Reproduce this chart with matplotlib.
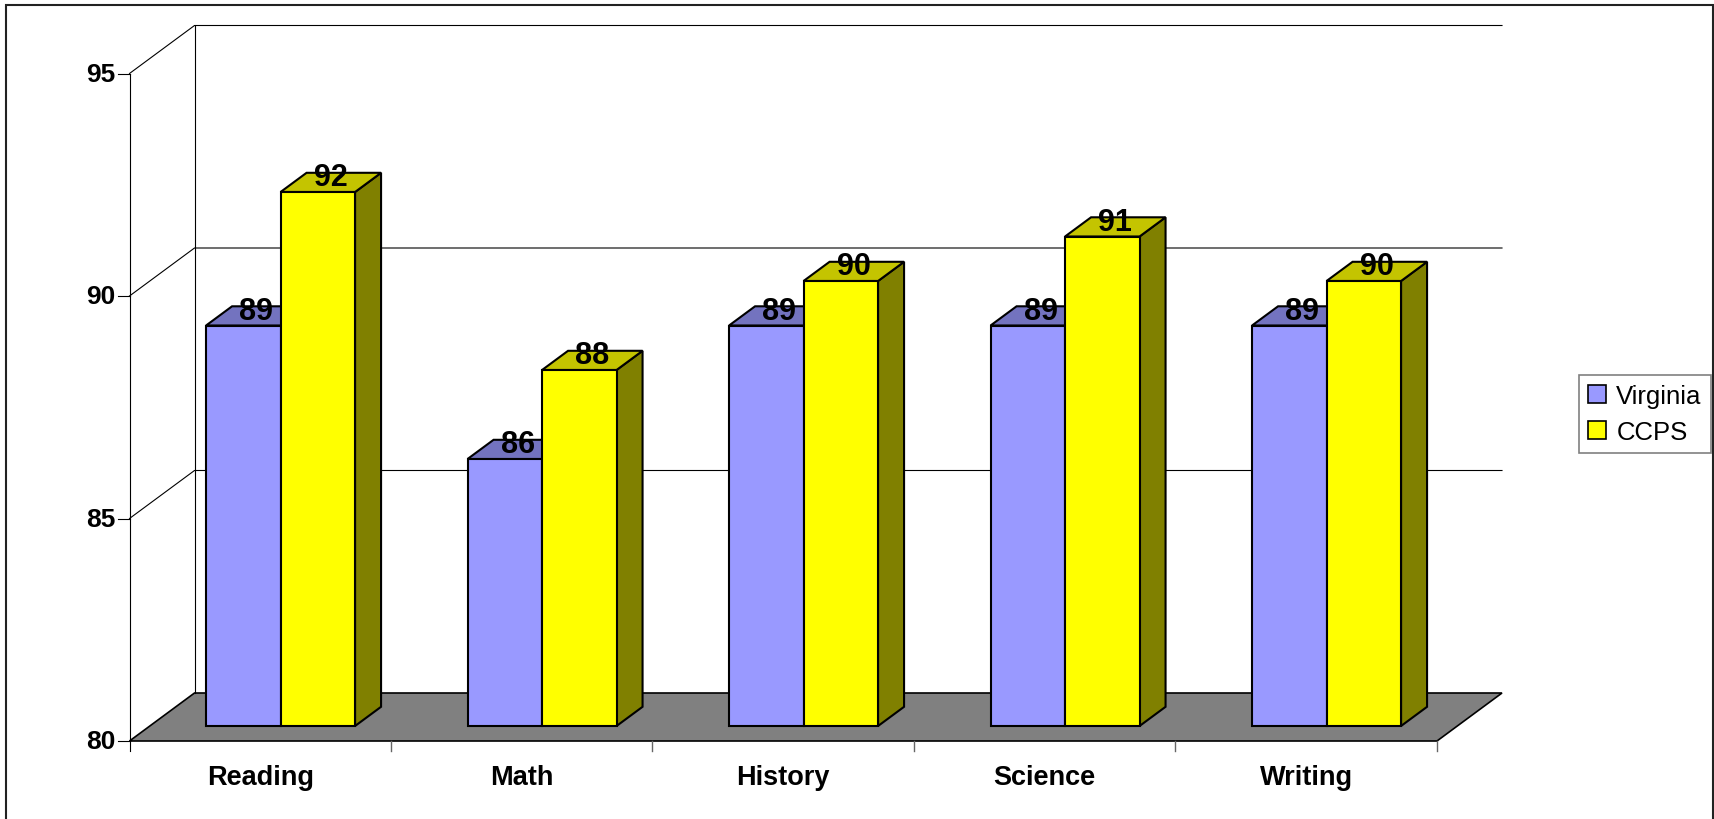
import matplotlib
matplotlib.use("Agg")
import matplotlib.pyplot as plt
from matplotlib.patches import Polygon, Patch, Rectangle

plt.rcParams['font.family'] = ['Liberation Sans', 'DejaVu Sans']

categories = ["Reading", "Math", "History", "Science", "Writing"]
virginia = [89, 86, 89, 89, 89]
ccps = [92, 88, 90, 91, 90]
series_names = ["Virginia", "CCPS"]
y_ticks = [80, 85, 90, 95]

W, H = 1715, 820
fig = plt.figure(figsize=(W / 100, H / 100), dpi=100)
ax = fig.add_axes([0, 0, 1, 1])

# pixel layout of the fake 3d box
X0, CAT = 129.5, 261.5      # front-left corner px, px per category
Y0, UNIT = 742, 44.5        # px of the floor line, px per value unit
DX, DY = 65 / CAT, 48 / UNIT  # depth offset in data units
VMIN, VMAX = y_ticks[0], y_ticks[-1]

ax.set_xlim(-X0 / CAT, (W - X0) / CAT)
ax.set_ylim(VMIN - (H - Y0) / UNIT, VMIN + Y0 / UNIT)
ax.axis('off')


def proj(x, v, d):
    return (x + d * DX, v + d * DY)


ncat = len(categories)

# floor
floor = [proj(0, VMIN, 0), proj(ncat, VMIN, 0), proj(ncat, VMIN, 1), proj(0, VMIN, 1)]
ax.add_patch(Polygon(floor, closed=True, fc='#808080', ec='black', lw=1.2, zorder=1))

# walls, gridlines, y ticks
for t in y_ticks:
    p0 = proj(0, t, 0)
    p1 = proj(0, t, 1)
    p2 = proj(ncat, t, 1)
    if t > VMIN:
        ax.plot([p0[0], p1[0], p2[0]], [p0[1], p1[1], p2[1]], color='black', lw=0.8, zorder=1)
    ax.plot([p0[0] - 11.5 / CAT, p0[0]], [t, t], color='black', lw=0.8, zorder=1)
    ax.text(p0[0] - 14 / CAT, t, str(t), ha='right', va='center',
            fontsize=19, fontweight='bold')

ax.plot([0, 0], [VMIN - 10 / UNIT, VMAX], color='black', lw=0.8, zorder=1)
b0 = proj(0, VMIN, 1)
b1 = proj(0, VMAX, 1)
ax.plot([b0[0], b1[0]], [b0[1], b1[1]], color='black', lw=0.8, zorder=1)

# category ticks and labels
for k in range(1, ncat + 1):
    ax.plot([k, k], [VMIN, VMIN - 10 / UNIT], color='#666666', lw=1, zorder=1)
for i, c in enumerate(categories):
    ax.text(i + 0.5, VMIN - 36 / UNIT, c, ha='center', va='center',
            fontsize=19.5, fontweight='bold')

# bars
bw = 74.5 / CAT
gap = (1 - 2 * bw) / 2
d0, d1 = 0.3125, 0.7125
styles = [('#9999FF', '#7373BF', '#4D4D80'), ('#FFFF00', '#C4C400', '#808000')]
for i in range(ncat):
    for j, vals in enumerate([virginia, ccps]):
        front_c, top_c, side_c = styles[j]
        x0 = i + gap + j * bw
        x1 = x0 + bw
        v = vals[i]
        side = [proj(x1, VMIN, d0), proj(x1, VMIN, d1), proj(x1, v, d1), proj(x1, v, d0)]
        top = [proj(x0, v, d0), proj(x1, v, d0), proj(x1, v, d1), proj(x0, v, d1)]
        front = [proj(x0, VMIN, d0), proj(x1, VMIN, d0), proj(x1, v, d0), proj(x0, v, d0)]
        for poly, col in [(side, side_c), (top, top_c), (front, front_c)]:
            ax.add_patch(Polygon(poly, closed=True, fc=col, ec='black', lw=1.5, zorder=2))
        cx, cy = proj((x0 + x1) / 2, v, (d0 + d1) / 2)
        ax.text(cx, cy - 3 / UNIT, str(v), ha='center', va='baseline',
                fontsize=22, fontweight='bold', zorder=3)

handles = [Patch(fc=styles[0][0], ec='black', lw=1.2), Patch(fc=styles[1][0], ec='black', lw=1.2)]
leg = fig.legend(handles=handles, labels=series_names, loc='center left',
                 bbox_to_anchor=(1579 / W, 1 - 415 / H), fontsize=18.5,
                 frameon=True, fancybox=False, edgecolor='#808080', framealpha=1,
                 handlelength=0.7, handleheight=0.7, handletextpad=0.4,
                 borderpad=0.35, labelspacing=0.45, borderaxespad=0)
leg.get_frame().set_linewidth(1.2)

fig.add_artist(Rectangle((6 / W, -0.02), (1713 - 6) / W, (H - 6) / H + 0.02,
                         transform=fig.transFigure, fill=False, ec='#222222', lw=1.5))

fig.savefig('out.png', dpi=100)
